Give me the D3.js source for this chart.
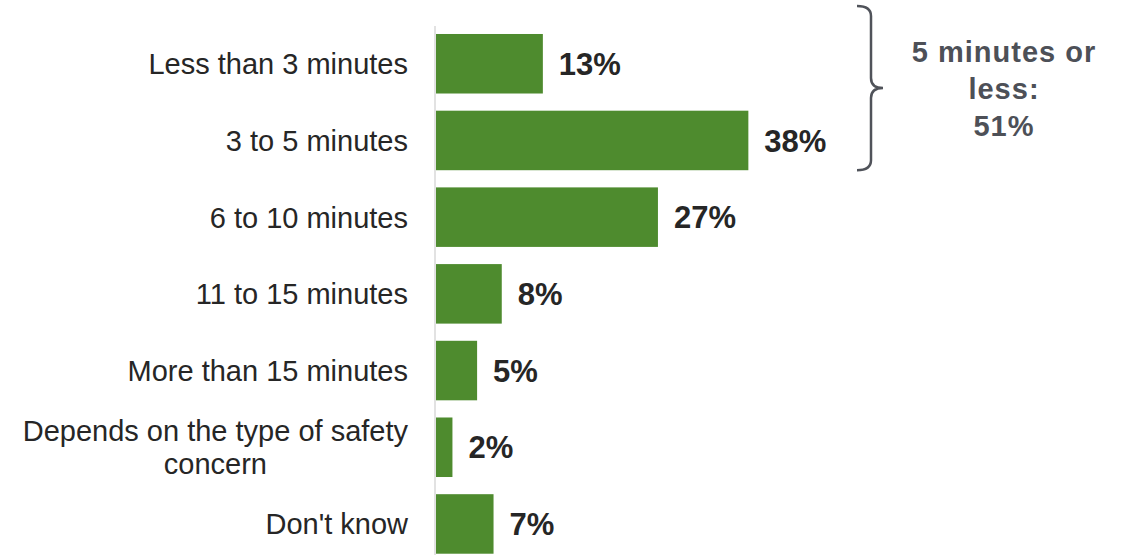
<!DOCTYPE html>
<html>
<head>
<meta charset="utf-8">
<script src="https://cdn.jsdelivr.net/npm/d3@7"></script>
<style>
  html, body { margin: 0; padding: 0; background: #fff; }
  svg text { font-family: "Liberation Sans", Arial, Helvetica, sans-serif; }
</style>
</head>
<body>
<div class="chart"></div>
<script>
// data
const categories = [
  "Less than 3 minutes",
  "3 to 5 minutes",
  "6 to 10 minutes",
  "11 to 15 minutes",
  "More than 15 minutes",
  "Depends on the type of safety concern",
  "Don't know"
];
const values = [13, 38, 27, 8, 5, 2, 7];
const bracketRange = ["Less than 3 minutes", "3 to 5 minutes"];
const noteLines = ["5 minutes or", "less:", "51%"];

const width = 1135, height = 555;

const svg = d3.select(".chart")
  .append("svg")
  .attr("width", width)
  .attr("height", height);

// scales
const x = d3.scaleLinear()
  .domain([0, 100])
  .range([436, 436 + 822]);

const y = d3.scaleBand()
  .domain(categories)
  .range([25.4, 562.3])
  .paddingInner(0.224)
  .paddingOuter(0.112);

// vertical axis line
svg.append("line")
  .attr("x1", 435).attr("x2", 435)
  .attr("y1", 26).attr("y2", height)
  .attr("stroke", "#d9d9d9")
  .attr("stroke-width", 1.5);

// bars
svg.append("g")
  .selectAll("rect")
  .data(values)
  .join("rect")
  .attr("x", x(0))
  .attr("y", (d, i) => y(categories[i]))
  .attr("width", d => x(d) - x(0))
  .attr("height", y.bandwidth())
  .attr("fill", "#4e8b2e");

// value labels
svg.append("g")
  .selectAll("text")
  .data(values)
  .join("text")
  .attr("x", d => x(d) + 16)
  .attr("y", (d, i) => y(categories[i]) + y.bandwidth() / 2)
  .attr("dy", "0.36em")
  .attr("font-size", 31)
  .attr("font-weight", "bold")
  .attr("fill", "#262626")
  .text(d => d + "%");

// category labels, wrapped to fit
const labelRight = 408;
const maxLabelWidth = 392;
const catG = svg.append("g");

categories.forEach(cat => {
  const t = catG.append("text")
    .attr("font-size", 29)
    .attr("fill", "#262626");
  // wrap words
  const words = cat.split(" ");
  let lines = [], line = [];
  const probe = t.append("tspan");
  words.forEach(w => {
    line.push(w);
    probe.text(line.join(" "));
    if (probe.node().getComputedTextLength() > maxLabelWidth && line.length > 1) {
      line.pop();
      lines.push(line.join(" "));
      line = [w];
    }
  });
  lines.push(line.join(" "));
  probe.remove();

  const lineH = 33;
  const cy = y(cat) + y.bandwidth() / 2;
  const y0 = cy - (lines.length - 1) * lineH / 2;

  if (lines.length === 1) {
    t.attr("text-anchor", "end")
      .append("tspan")
      .attr("x", labelRight)
      .attr("y", y0)
      .attr("dy", "0.36em")
      .text(lines[0]);
  } else {
    const spans = lines.map((l, i) => t.append("tspan")
      .attr("y", y0 + i * lineH)
      .attr("dy", "0.36em")
      .text(l));
    const wMax = d3.max(spans, s => s.node().getComputedTextLength());
    t.attr("text-anchor", "middle");
    spans.forEach(s => s.attr("x", labelRight - wMax / 2));
  }
});

// curly bracket for the first two rows
const bTop = y(bracketRange[0]) - 28;
const bBot = y(bracketRange[1]) + y.bandwidth();
const bMid = (bTop + bBot) / 2;
const bx0 = 857, bx1 = 871, bx2 = 883, r = 10;

const bracket = d3.path();
bracket.moveTo(bx0, bTop);
bracket.quadraticCurveTo(bx1, bTop, bx1, bTop + r);
bracket.lineTo(bx1, bMid - r);
bracket.quadraticCurveTo(bx1, bMid, bx2, bMid);
bracket.quadraticCurveTo(bx1, bMid, bx1, bMid + r);
bracket.lineTo(bx1, bBot - r);
bracket.quadraticCurveTo(bx1, bBot, bx0, bBot);

svg.append("path")
  .attr("d", bracket.toString())
  .attr("fill", "none")
  .attr("stroke", "#50535a")
  .attr("stroke-width", 2.5);

// bracket note
svg.append("text")
  .attr("text-anchor", "middle")
  .attr("font-size", 29)
  .attr("font-weight", "bold")
  .attr("letter-spacing", 1)
  .attr("fill", "#4d5057")
  .selectAll("tspan")
  .data(noteLines)
  .join("tspan")
  .attr("x", 1004)
  .attr("y", (d, i) => 62 + i * 37)
  .text(d => d);
</script>
</body>
</html>
